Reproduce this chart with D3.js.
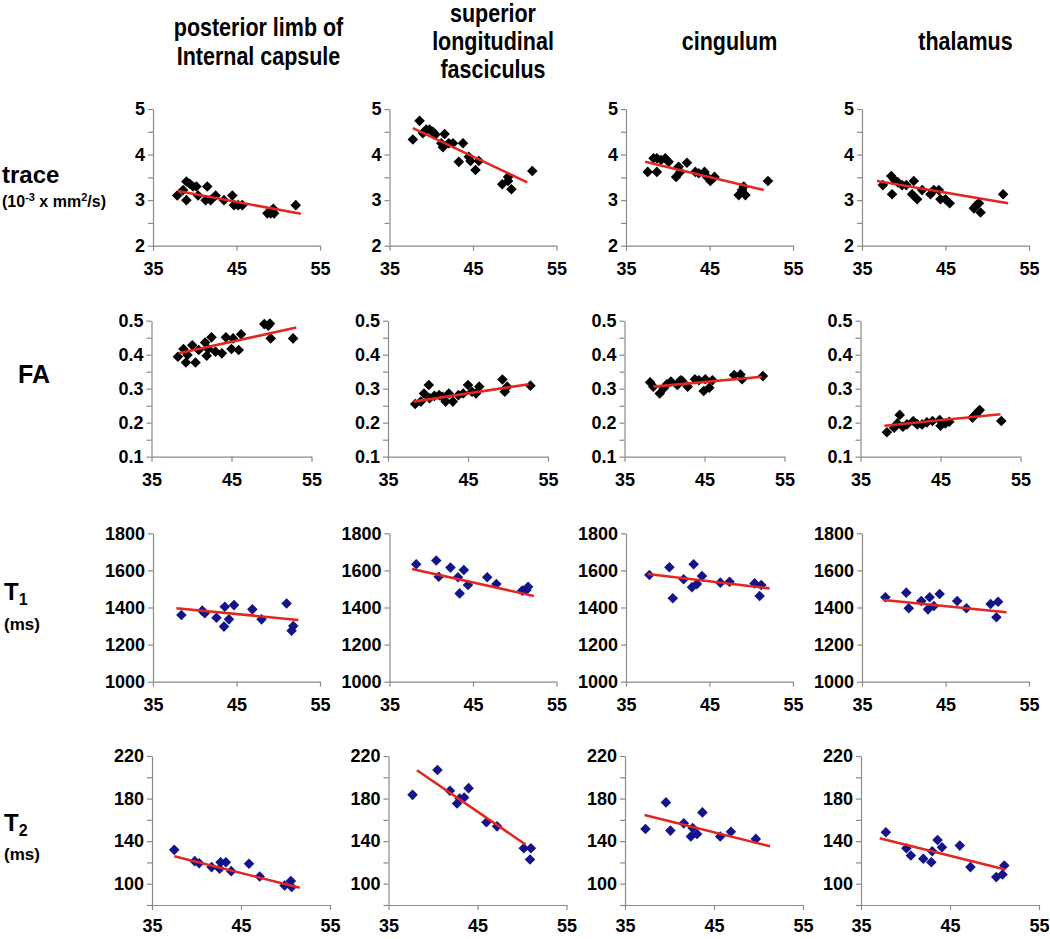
<!DOCTYPE html>
<html><head><meta charset="utf-8">
<script src="https://cdn.jsdelivr.net/npm/d3@7"></script>
<style>
body{margin:0;background:#fff}
svg{display:block}
text{font-family:"Liberation Sans",Arial,Helvetica,sans-serif;font-weight:bold;fill:#000}
</style>
</head><body>
<svg id="chart" width="1050" height="939"></svg>
<script>
// ---------- categories / labels ----------
const columnTitles = [["posterior limb of","Internal capsule"],["superior","longitudinal","fasciculus"],["cingulum"],["thalamus"]];
const rowNames = ["trace","FA","T1","T2"];
const xTicks = [35,45,55];
const xDomain = [35,55];
const yDomains = [[2,5],[0.1,0.5],[1000,1800],[80,220]];
const yTickSteps = [0.5,0.05,200,20];
const yLabelTicks = [[2,3,4,5],[0.1,0.2,0.3,0.4,0.5],[1000,1200,1400,1600,1800],[100,140,180,220]];

// ---------- data: [age, value] ----------
const tracePLIC = [[37.9,3.10],[38.6,3.22],[39.0,3.41],[39.0,3.00],[39.4,3.36],[39.8,3.30],[40.2,3.30],[40.4,3.10],[41.5,3.30],[41.3,3.00],[41.9,3.00],[42.5,3.10],[43.5,3.00],[44.5,3.10],[44.7,2.89],[45.2,2.89],[45.7,2.89],[48.7,2.71],[49.1,2.71],[49.4,2.81],[49.5,2.71],[52.1,2.89]];
const traceSLF = [[37.8,4.33],[38.6,4.74],[39.0,4.47],[39.4,4.55],[39.8,4.55],[40.2,4.50],[40.5,4.44],[41.6,4.45],[41.2,4.25],[41.4,4.16],[42.1,4.25],[42.6,4.25],[43.3,3.84],[43.8,4.25],[44.5,3.95],[44.7,3.86],[45.3,3.66],[45.7,3.86],[48.5,3.35],[49.2,3.51],[49.2,3.42],[49.6,3.24],[52.1,3.64]];
const traceCING = [[37.6,3.62],[38.3,3.92],[38.7,3.62],[38.7,3.92],[39.2,3.88],[39.7,3.92],[40.1,3.84],[41.0,3.51],[41.3,3.73],[41.5,3.62],[42.3,3.82],[43.3,3.62],[43.7,3.59],[44.4,3.62],[44.7,3.51],[45.1,3.42],[45.6,3.51],[48.5,3.11],[48.9,3.22],[49.1,3.30],[49.3,3.11],[52.0,3.42]];
const traceTHAL = [[37.5,3.33],[38.5,3.53],[38.6,3.13],[38.9,3.44],[39.3,3.39],[39.8,3.33],[40.3,3.33],[41.2,3.42],[41.0,3.13],[41.6,3.02],[42.2,3.22],[43.2,3.13],[43.6,3.22],[44.2,3.22],[44.4,3.02],[45.0,3.02],[45.5,2.93],[48.4,2.82],[48.7,2.89],[49.0,2.93],[49.2,2.73],[51.9,3.13]];

const faPLIC = [[38.3,0.394],[39.0,0.417],[39.3,0.377],[39.5,0.399],[40.1,0.428],[40.5,0.377],[40.9,0.414],[41.7,0.436],[41.9,0.397],[42.1,0.417],[42.5,0.451],[43.0,0.409],[43.8,0.404],[44.3,0.451],[45.0,0.417],[45.2,0.448],[45.9,0.414],[46.2,0.460],[49.1,0.490],[49.6,0.485],[49.8,0.492],[49.9,0.448],[52.7,0.448]];
const faSLF = [[38.4,0.255],[39.1,0.262],[39.5,0.286],[40.1,0.311],[40.2,0.272],[40.8,0.279],[41.4,0.281],[41.8,0.276],[42.2,0.262],[42.6,0.286],[43.1,0.262],[43.8,0.281],[44.4,0.286],[45.0,0.311],[45.5,0.291],[46.0,0.286],[46.4,0.306],[49.3,0.327],[49.6,0.291],[49.9,0.306],[52.8,0.309]];
const faCING = [[38.2,0.319],[38.6,0.306],[39.4,0.286],[39.9,0.301],[40.3,0.313],[40.8,0.321],[41.6,0.311],[42.0,0.325],[42.2,0.323],[42.9,0.306],[43.8,0.328],[44.3,0.325],[44.9,0.293],[45.1,0.328],[45.6,0.303],[46.0,0.325],[48.7,0.340],[49.5,0.342],[49.7,0.328],[52.3,0.337]];
const faTHAL = [[38.3,0.172],[39.2,0.185],[39.6,0.198],[39.9,0.223],[40.3,0.188],[40.8,0.195],[41.6,0.205],[42.1,0.195],[42.7,0.195],[43.3,0.201],[44.0,0.205],[44.9,0.208],[45.0,0.191],[45.6,0.198],[46.1,0.203],[49.0,0.215],[49.4,0.225],[49.7,0.232],[49.9,0.237],[52.6,0.205]];

const t1PLIC = [[38.4,1360],[40.9,1383],[41.2,1369],[42.6,1345],[43.5,1297],[43.6,1404],[44.1,1336],[44.7,1413],[46.9,1390],[48.0,1336],[51.0,1422],[51.6,1275],[51.8,1300]];
const t1SLF = [[38.2,1633],[40.6,1653],[40.9,1566],[42.3,1615],[43.2,1563],[43.4,1476],[43.9,1602],[44.4,1521],[46.7,1563],[47.8,1527],[50.9,1491],[51.4,1494],[51.6,1512]];
const t1CING = [[37.8,1575],[40.2,1617],[40.6,1450],[41.9,1552],[43.1,1633],[42.9,1509],[43.5,1527],[44.1,1570],[46.3,1534],[47.4,1539],[50.4,1530],[51.0,1462],[51.2,1521]];
const t1THAL = [[37.8,1455],[40.3,1480],[40.6,1396],[42.1,1435],[42.9,1390],[43.1,1455],[43.6,1408],[44.3,1473],[46.4,1435],[47.5,1396],[50.4,1419],[51.1,1347],[51.3,1431]];

const t2PLIC = [[37.5,131.8],[39.8,121.2],[40.3,119.3],[41.7,115.6],[42.6,114.0],[42.7,120.2],[43.3,120.2],[43.9,111.8],[45.9,118.7],[47.1,106.8],[49.9,98.4],[50.6,102.5],[50.7,96.9]];
const t2SLF = [[37.7,183.5],[40.5,206.9],[41.9,187.3],[42.7,175.4],[43.0,180.1],[43.5,181.0],[44.0,189.8],[46.0,157.7],[47.2,153.9],[50.2,133.3],[50.9,122.7],[51.0,133.3]];
const t2CING = [[37.3,151.4],[39.6,176.4],[40.1,149.9],[41.6,156.7],[42.4,144.3],[42.6,152.4],[43.1,146.7],[43.7,167.0],[45.7,144.3],[46.9,148.9],[49.7,142.1]];
const t2THAL = [[37.8,148.3],[40.1,133.3],[40.6,126.5],[42.0,123.4],[42.9,120.2],[43.0,130.5],[43.6,141.1],[44.1,134.3],[46.1,135.8],[47.3,115.6],[50.2,106.2],[50.9,108.7],[51.1,117.1]];

// ---------- trend lines: [x1, y1, x2, y2] ----------
const traceFits = [[38.0,3.20,52.7,2.70],[37.8,4.58,51.5,3.39],[37.3,3.84,51.5,3.22],[36.8,3.42,52.5,2.93]];
const faFits = [[38.4,0.404,53.1,0.480],[38.2,0.262,52.6,0.313],[38.6,0.306,52.2,0.335],[38.0,0.191,52.5,0.225]];
const t1Fits = [[37.8,1396,52.4,1333],[37.7,1608,52.3,1462],[37.6,1581,52.2,1503],[37.6,1440,52.3,1374]];
const t2Fits = [[37.5,125.9,51.6,96.2],[38.2,206.6,50.4,136.8],[37.2,164.5,51.3,135.2],[37.1,142.7,51.2,113.4]];

const panelData = [[tracePLIC,traceSLF,traceCING,traceTHAL],[faPLIC,faSLF,faCING,faTHAL],[t1PLIC,t1SLF,t1CING,t1THAL],[t2PLIC,t2SLF,t2CING,t2THAL]];
const panelFits = [traceFits,faFits,t1Fits,t2Fits];

// ---------- layout ----------
const colX0 = [153,389.5,626,862];
const rowXShift = [0,-1.5,0,-1];
const rowWidth = [167,160,167,178];
const rowTop = [109,320.7,533.3,756];
const rowBottom = [245.7,456.7,681.7,905];
const rowLabelPad = [12,12,12,9];
const markerColor = ["#000","#000","#13138a","#13138a"];
const lineColor = "#e3261f";
const axisColor = "#8a8a8a";

const svg = d3.select("#chart");

// column titles (condensed bold look)
const titleCenters = colX0.map((x,i)=>x+20+(i===0?2:0)+rowWidth[0]/2);
const titleGaps = [29,28,29,29];
columnTitles.forEach((lines,c)=>{
  const cy = 41;
  const gap = titleGaps[c];
  const start = cy - (lines.length-1)*gap/2;
  lines.forEach((t,i)=>{
    svg.append("text")
      .attr("transform",`translate(${titleCenters[c]},${start+i*gap}) scale(0.86,1)`)
      .attr("dy","0.36em")
      .attr("text-anchor","middle").style("font-size","25px").text(t);
  });
});

// row labels
svg.append("text").attr("x",2).attr("y",183).style("font-size","24px").text("trace");
const sub = svg.append("text").attr("x",2).attr("y",207).style("font-size","16px");
sub.append("tspan").text("(10");
sub.append("tspan").attr("dy",-6).style("font-size","11px").text("-3");
sub.append("tspan").attr("dy",6).text(" x mm");
sub.append("tspan").attr("dy",-6).style("font-size","11px").text("2");
sub.append("tspan").attr("dy",6).text("/s)");
svg.append("text").attr("x",18).attr("y",383).style("font-size","25px").text("FA");
const t1 = svg.append("text").attr("x",4).attr("y",600).style("font-size","24px");
t1.append("tspan").text("T");
t1.append("tspan").attr("dy",5).style("font-size","16px").text("1");
svg.append("text").attr("x",4).attr("y",630).style("font-size","17px").text("(ms)");
const t2 = svg.append("text").attr("x",4).attr("y",831).style("font-size","24px");
t2.append("tspan").text("T");
t2.append("tspan").attr("dy",5).style("font-size","16px").text("2");
svg.append("text").attr("x",4).attr("y",860).style("font-size","17px").text("(ms)");

const fmts = [d3.format("d"), d3.format(".1f"), d3.format("d"), d3.format("d")];
const diamond = d3.symbol().type(d3.symbolSquare).size(56);

for (let r=0;r<4;r++){
  const [d0,d1] = yDomains[r];
  const step = yTickSteps[r];
  const ticks = d3.range(0, Math.round((d1-d0)/step)+1).map(i=>+(d0+i*step).toFixed(3));
  const labeled = yLabelTicks[r];
  for (let c=0;c<4;c++){
    const x0 = colX0[c]+rowXShift[r];
    const x = d3.scaleLinear().domain(xDomain).range([x0, x0+rowWidth[r]]);
    const y = d3.scaleLinear().domain(yDomains[r]).range([rowBottom[r], rowTop[r]]);
    const g = svg.append("g");

    const ya = g.append("g").attr("transform",`translate(${x0},0)`)
      .call(d3.axisLeft(y).tickValues(ticks).tickSize(5).tickSizeOuter(0).tickPadding(3)
        .tickFormat(v => labeled.some(l=>Math.abs(l-v)<1e-6) ? fmts[r](v) : ""));
    const xa = g.append("g").attr("transform",`translate(0,${rowBottom[r]})`)
      .call(d3.axisBottom(x).tickValues(xTicks).tickSize(5).tickSizeOuter(0).tickPadding(rowLabelPad[r]).tickFormat(d3.format("d")));
    [ya,xa].forEach(a=>{
      a.selectAll("path,line").attr("stroke",axisColor).attr("stroke-width",1.2);
      a.selectAll("text").style("font-size","18px").style("font-family",'"Liberation Sans",Arial,sans-serif').style("font-weight","bold").attr("fill","#000");
    });

    g.append("g").selectAll("path").data(panelData[r][c]).join("path")
      .attr("d",diamond)
      .attr("transform",d=>`translate(${x(d[0])},${y(d[1])}) rotate(45)`)
      .attr("fill",markerColor[r]);

    const f = panelFits[r][c];
    g.append("line")
      .attr("x1",x(f[0])).attr("y1",y(f[1])).attr("x2",x(f[2])).attr("y2",y(f[3]))
      .attr("stroke",lineColor).attr("stroke-width",2.6);
  }
}
</script>
</body></html>
